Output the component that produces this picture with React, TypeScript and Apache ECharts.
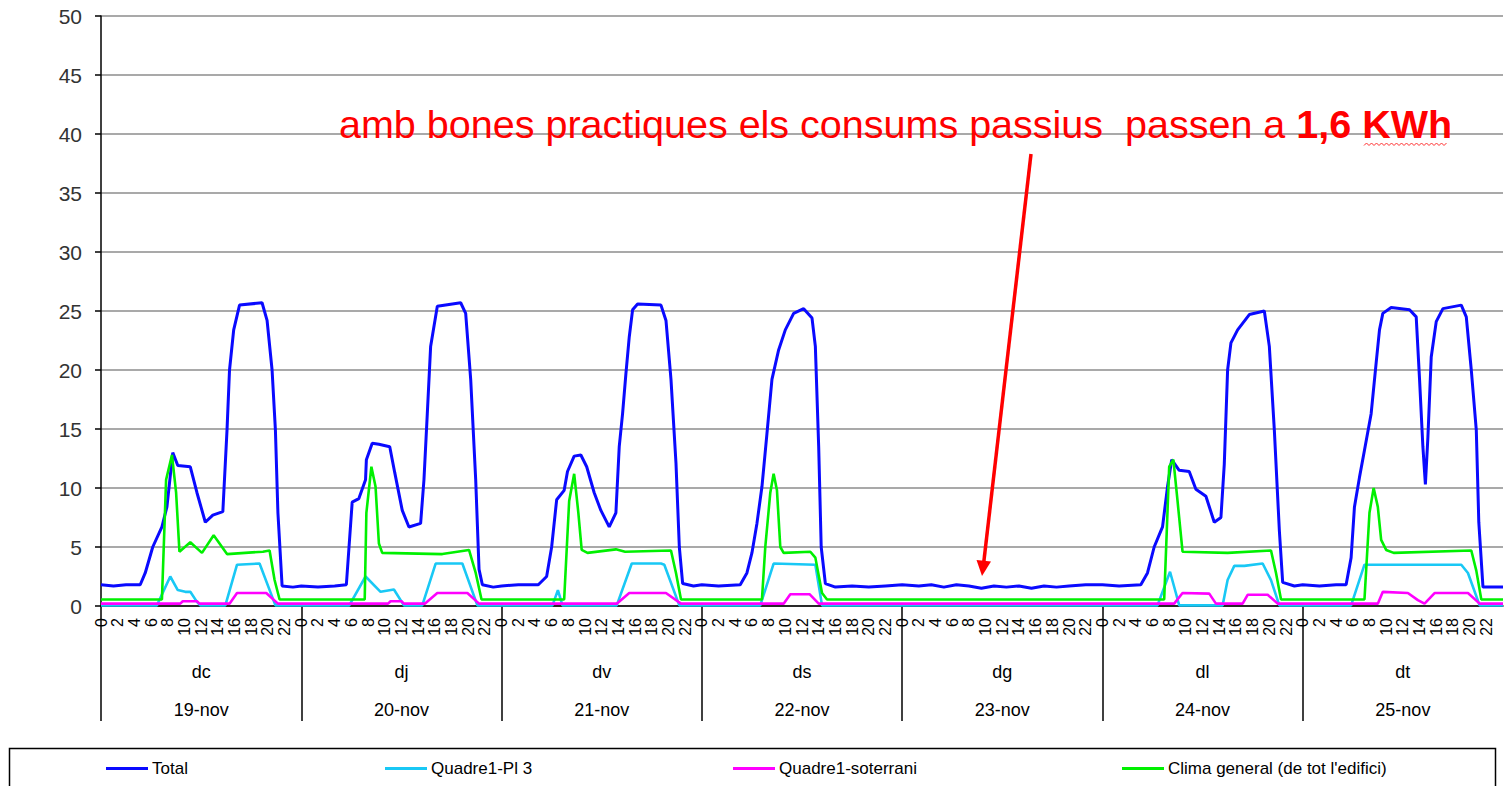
import React, { useEffect, useRef } from "react";
import * as echarts from "echarts";

const dayNames = ["dc", "dj", "dv", "ds", "dg", "dl", "dt"];
const dayDates = ["19-nov", "20-nov", "21-nov", "22-nov", "23-nov", "24-nov", "25-nov"];
const hourLabels = ["0", "2", "4", "6", "8", "10", "12", "14", "16", "18", "20", "22"];
const seriesNames = ["Total", "Quadre1-Pl 3", "Quadre1-soterrani", "Clima general (de tot l'edifici)"];

// [hour of day, kWh] readings, one list per day
const totalDays = [
  [[0,1.8],[1.5,1.7],[3,1.8],[4.7,1.8],[5.3,2.8],[6.2,5.0],[7.3,6.7],[7.9,8.4],[8.6,13.0],[9.2,11.9],[10.7,11.8],[11.5,9.6],[12.5,7.1],[13.4,7.7],[14.6,8.0],[15.1,14.9],[15.4,20.0],[15.9,23.4],[16.6,25.5],[19.3,25.7],[19.9,24.2],[20.5,20.0],[20.9,14.9],[21.2,7.9],[21.7,1.7],[23,1.6]],
  [[0,1.7],[2,1.6],[4,1.7],[5.4,1.8],[6.1,8.8],[6.9,9.1],[7.7,10.7],[7.8,12.4],[8.5,13.8],[9.3,13.7],[10.6,13.5],[11.2,11.3],[12.1,8.1],[12.9,6.7],[14.3,7.0],[14.7,10.7],[15.1,16.3],[15.5,22.0],[16.3,25.4],[18.1,25.6],[19.1,25.7],[19.7,24.8],[20.3,19.2],[20.9,10.7],[21.3,3.1],[21.7,1.8],[23,1.6]],
  [[0,1.7],[2,1.8],[4.4,1.8],[5.4,2.5],[6.0,5.0],[6.6,9.0],[7.5,9.8],[7.9,11.4],[8.7,12.7],[9.5,12.8],[10.2,11.8],[11.1,9.6],[11.9,8.1],[12.9,6.7],[13.7,7.9],[14.1,13.5],[14.5,16.3],[14.9,19.7],[15.3,22.8],[15.7,25.1],[16.3,25.6],[19.1,25.5],[19.7,24.2],[20.3,19.2],[20.9,12.1],[21.3,5.0],[21.7,1.9],[23,1.7]],
  [[0,1.8],[2,1.7],[4.6,1.8],[5.4,2.8],[6.0,4.5],[6.6,7.0],[7.2,10.1],[7.8,14.6],[8.4,19.2],[9.2,21.7],[10.0,23.4],[11.0,24.8],[12.2,25.2],[13.2,24.4],[13.6,22.0],[14.0,13.5],[14.3,5.0],[14.8,1.9],[16,1.6],[18,1.7],[20,1.6],[22,1.7]],
  [[0,1.8],[2,1.7],[3.5,1.8],[5,1.6],[6.5,1.8],[8,1.7],[9.5,1.5],[11,1.7],[12.5,1.6],[14,1.7],[15.5,1.5],[17,1.7],[18.5,1.6],[20,1.7],[22,1.8]],
  [[0,1.8],[2,1.7],[4.6,1.8],[5.4,2.8],[6.2,5.0],[7.2,6.7],[7.8,10.1],[8.3,12.4],[9.2,11.5],[10.4,11.4],[11.2,9.9],[12.4,9.3],[13.4,7.1],[14.2,7.5],[14.6,12.0],[15.0,20.0],[15.4,22.3],[16.2,23.4],[17.6,24.7],[19.4,25.0],[20.0,22.0],[20.6,14.9],[21.2,6.4],[21.6,2.0],[23,1.7]],
  [[0,1.8],[2,1.7],[4,1.8],[5.2,1.8],[5.8,4.1],[6.2,8.4],[6.8,10.9],[7.4,13.2],[8.2,16.3],[8.8,20.6],[9.2,23.4],[9.6,24.8],[10.6,25.3],[12.8,25.1],[13.6,24.5],[14.0,19.2],[14.4,13.5],[14.7,10.3],[15.0,14.3],[15.4,21.1],[16.0,24.1],[16.8,25.2],[19.0,25.5],[19.6,24.5],[20.2,20.0],[20.8,14.9],[21.1,7.1],[21.6,1.6],[24,1.6]],
];

const quadrePl3Days = [
  [[0,0.05],[6.7,0.05],[8.3,2.5],[9.2,1.35],[10.1,1.2],[10.7,1.2],[11.5,0.35],[11.9,0.05],[14.9,0.05],[16.3,3.5],[19.0,3.6],[20.9,0.05]],
  [[0,0.05],[5.75,0.05],[7.7,2.5],[9.5,1.2],[11.1,1.4],[12.3,0.05],[14.5,0.05],[16.1,3.6],[19.3,3.6],[21.1,0.05]],
  [[0,0.05],[6.1,0.05],[6.75,1.35],[7.3,0.05],[13.8,0.05],[15.6,3.6],[19.1,3.6],[19.5,3.5],[21.3,0.05]],
  [[0,0.05],[7.0,0.05],[8.6,3.6],[13.6,3.5],[14.4,0.05]],
  [[0,0.05],[23.9,0.05]],
  [[0,0.05],[6.6,0.05],[8.1,2.9],[8.8,1.1],[9.2,0.05],[14.4,0.05],[15.0,2.2],[15.8,3.4],[17.0,3.4],[19.2,3.6],[20.2,2.2],[21.2,0.05]],
  [[0,0.05],[5.8,0.05],[7.4,3.5],[19.0,3.5],[19.8,2.8],[21.2,0.05],[24,0.05]],
];

const soterraniDays = [
  [[0,0.2],[9.5,0.2],[9.8,0.4],[11.5,0.4],[11.8,0.2],[15.4,0.2],[16.3,1.1],[19.8,1.1],[21.2,0.2]],
  [[0,0.2],[10.4,0.2],[10.7,0.4],[12,0.4],[12.3,0.2],[14.8,0.2],[16.3,1.1],[19.9,1.1],[21.3,0.2]],
  [[0,0.2],[13.8,0.2],[15.3,1.1],[19.7,1.1],[21.5,0.2]],
  [[0,0.2],[9.8,0.2],[10.6,1.0],[12.9,1.0],[14.0,0.2]],
  [[0,0.2],[23.9,0.2]],
  [[0,0.2],[8.6,0.2],[9.6,1.1],[12.8,1.05],[13.6,0.2],[16.8,0.2],[17.4,0.95],[19.8,0.95],[21.0,0.2]],
  [[0,0.2],[9.0,0.2],[9.6,1.2],[12.6,1.1],[13.8,0.5],[14.6,0.2],[15.8,1.1],[19.8,1.1],[21.2,0.2],[24,0.2]],
];

const climaDays = [
  [[0,0.55],[7.3,0.55],[7.8,10.7],[8.5,12.8],[9.0,9.6],[9.4,4.6],[10.7,5.4],[12.1,4.5],[13.5,6.0],[15.1,4.4],[19.4,4.6],[20.2,4.7],[20.8,2.2],[21.4,0.55]],
  [[0,0.55],[7.6,0.55],[7.8,7.9],[8.4,11.8],[8.9,10.1],[9.3,5.3],[9.7,4.5],[16.9,4.4],[20.1,4.75],[20.9,2.8],[21.6,0.55]],
  [[0,0.55],[7.5,0.55],[8.1,8.9],[8.7,11.2],[9.2,7.9],[9.6,4.75],[10.3,4.5],[13.7,4.8],[14.8,4.6],[20.3,4.7],[20.9,2.8],[21.5,0.55]],
  [[0,0.55],[7.2,0.55],[7.6,5.0],[8.2,9.6],[8.6,11.2],[9.0,9.8],[9.4,5.0],[9.8,4.5],[13.0,4.6],[13.6,4.1],[14.4,1.1],[15.0,0.55]],
  [[0,0.55],[23.9,0.55]],
  [[0,0.55],[7.4,0.55],[8.0,11.8],[8.5,12.4],[9.0,8.9],[9.6,4.6],[15,4.5],[20.2,4.7],[20.8,2.8],[21.4,0.55]],
  [[0,0.55],[7.4,0.55],[8.0,7.9],[8.5,10.0],[9.0,8.4],[9.4,5.6],[10.0,4.75],[10.9,4.5],[20.2,4.7],[20.8,3.0],[21.4,0.55],[24,0.55]],
];

const seriesColors = ["#0a0aff", "#19c8f5", "#ff00ff", "#00f000"];

const FONT = "'Liberation Sans', Arial, sans-serif";

function week(days: number[][][]) {
  const out: number[][] = [];
  days.forEach((d, i) => d.forEach(([h, v]) => out.push([i * 24 + h, v])));
  return out;
}

export default function App() {
  const ref = useRef<HTMLDivElement>(null);
  useEffect(() => {
    if (!ref.current) return;
    const chart = echarts.init(ref.current, null, { renderer: "svg" });
    const allDays = [totalDays, quadrePl3Days, soterraniDays, climaDays];
    const legendLeft = [106, 385, 733, 1122];

    // squiggly underline under KWh
    const squig: number[][] = [];
    for (let x = 1364, k = 0; x <= 1448; x += 2.5, k++) squig.push([x, k % 2 ? 143 : 145.5]);

    const tipX = 982, tipY = 576;
    chart.setOption({
      animation: false,
      backgroundColor: "#ffffff",
      textStyle: { fontFamily: FONT },
      grid: { left: 101, right: 5, top: 16, bottom: 180 },
      xAxis: [
        {
          type: "value",
          min: 0,
          max: 168,
          interval: 2,
          axisLine: { show: true, lineStyle: { color: "#000", width: 1.5 } },
          axisTick: { show: false },
          splitLine: { show: false },
          axisLabel: {
            rotate: 90,
            margin: 12,
            fontSize: 16,
            color: "#000",
            fontFamily: FONT,
            showMinLabel: true,
            showMaxLabel: false,
            formatter: (v: number) => (v >= 168 ? "" : hourLabels[(v % 24) / 2]),
          },
        },
        {
          type: "value",
          min: 0,
          max: 168,
          position: "bottom",
          axisLine: { show: false },
          splitLine: { show: false },
          axisTick: {
            show: true,
            length: 115,
            customValues: [0, 24, 48, 72, 96, 120, 144],
            lineStyle: { color: "#000", width: 1.5 },
          },
          axisLabel: {
            show: true,
            customValues: [12, 36, 60, 84, 108, 132, 156],
            margin: 47,
            fontSize: 18,
            lineHeight: 38,
            color: "#000",
            fontFamily: FONT,
            formatter: (v: number) => {
              const i = Math.round((v - 12) / 24);
              return dayNames[i] + "\n" + dayDates[i];
            },
          },
        },
      ],
      yAxis: {
        type: "value",
        min: 0,
        max: 50,
        interval: 5,
        axisLine: { show: true, lineStyle: { color: "#000", width: 1.5 } },
        axisTick: { show: true, length: 6, lineStyle: { color: "#000", width: 1.5 } },
        axisLabel: { fontSize: 21, color: "#333", margin: 19, fontFamily: FONT },
        splitLine: { lineStyle: { color: "#8c8c8c", width: 1.5 } },
      },
      legend: seriesNames.map((n, i) => ({
        show: true,
        left: legendLeft[i],
        top: 760,
        selectedMode: false,
        icon: "rect",
        itemWidth: 42,
        itemHeight: 3,
        itemGap: 4,
        padding: 0,
        textStyle: { fontSize: 17, color: "#000", fontFamily: FONT, padding: [0, 0, 0, -1] },
        data: [n],
      })),
      series: seriesNames.map((n, i) => ({
        name: n,
        type: "line",
        xAxisIndex: 0,
        data: week(allDays[i]),
        showSymbol: false,
        symbol: "none",
        color: seriesColors[i],
        lineStyle: { width: i === 0 ? 3 : 2.6, color: seriesColors[i] },
        z: 2 + i,
      })),
      graphic: [
        {
          type: "rect",
          shape: { x: 9.5, y: 748.5, width: 1486, height: 60 },
          style: { fill: "none", stroke: "#000", lineWidth: 1.5 },
          z: 1,
        },
        {
          type: "text",
          x: 339,
          y: 104,
          style: {
            text: "{n|amb bones practiques els consums passius  passen a }{b|1,6 KWh}",
            rich: {
              n: { fontSize: 39.5, fill: "#ff0000", fontFamily: FONT },
              b: { fontSize: 39.5, fill: "#ff0000", fontFamily: FONT, fontWeight: "bold" },
            },
          },
          z: 100,
        },
        {
          type: "polyline",
          shape: { points: squig },
          style: { stroke: "#ff3030", lineWidth: 1, fill: "none" },
          z: 100,
        },
        {
          type: "line",
          shape: { x1: 1031, y1: 154, x2: 983.8, y2: 562 },
          style: { stroke: "#ff0000", lineWidth: 3.5 },
          z: 100,
        },
        {
          type: "polygon",
          shape: { points: [[991, 561.5], [976.5, 560], [tipX, tipY]] },
          style: { fill: "#ff0000" },
          z: 100,
        },
      ],
    });
    return () => chart.dispose();
  }, []);
  return (
    <div
      ref={ref}
      style={{ position: "fixed", left: 0, top: 0, width: 1508, height: 786, background: "#fff" }}
    />
  );
}
